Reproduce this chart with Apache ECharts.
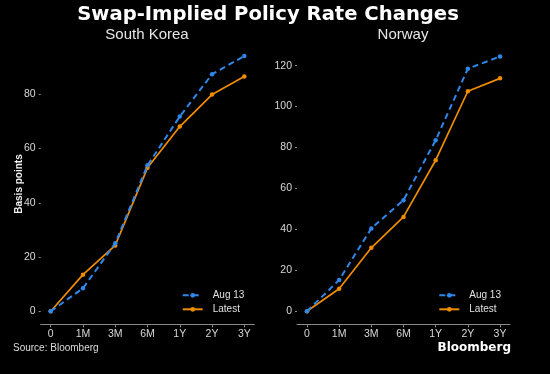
<!DOCTYPE html>
<html>
<head>
<meta charset="utf-8">
<script src="https://cdn.jsdelivr.net/npm/echarts@6/dist/echarts.min.js"></script>
<style>
html,body{margin:0;padding:0;background:#000;}
#chart{width:550px;height:374px;}
</style>
</head>
<body>
<div id="chart"></div>
<script>
var categories = ['0', '1M', '3M', '6M', '1Y', '2Y', '3Y'];
var koreaAug13 = [0, 8.5, 25.1, 53.8, 71.8, 87.4, 94.1];
var koreaLatest = [0, 13.5, 24.3, 52.9, 68.1, 79.9, 86.6];
var norwayAug13 = [0, 15.3, 40.5, 54.3, 83.6, 118.5, 124.5];
var norwayLatest = [0, 11, 31, 46.1, 73.8, 107.5, 113.8];
var koreaTicks = [0, 20, 40, 60, 80];
var norwayTicks = [0, 20, 40, 60, 80, 100, 120];

function pts(arr) { return arr.map(function (v, i) { return [i, v]; }); }
var catIdx = categories.map(function (c, i) { return i; });

var FONT = 'Liberation Sans, Arial, sans-serif';
var BLUE = '#2f87ea';
var ORANGE = '#f08c00';

function xAxis(gi) {
  return {
    type: 'value', gridIndex: gi, min: -0.31, max: 6.31,
    splitLine: { show: false },
    axisLine: { show: true, onZero: false, lineStyle: { color: '#8a8a8a', width: 1 } },
    axisTick: { show: true, length: 3, lineStyle: { color: '#8a8a8a' }, customValues: catIdx },
    axisLabel: { color: '#d8d8d8', fontSize: 10.5, fontFamily: FONT, margin: 4, customValues: catIdx,
      formatter: function (v) { return categories[Math.round(v)]; } }
  };
}
function yAxis(gi, min, max, ticks) {
  return {
    type: 'value', gridIndex: gi, min: min, max: max,
    splitLine: { show: false },
    axisLine: { show: false, onZero: false },
    axisTick: { show: true, length: 2, lineStyle: { color: '#8a8a8a' }, customValues: ticks },
    axisLabel: { color: '#d8d8d8', fontSize: 10.5, fontFamily: FONT, margin: 5, customValues: ticks }
  };
}
function lineSeries(name, gi, data, color, dashed) {
  return {
    name: name, type: 'line', xAxisIndex: gi, yAxisIndex: gi,
    data: pts(data), symbol: 'circle', symbolSize: 4.5, showSymbol: true,
    lineStyle: { color: color, width: dashed ? 2 : 1.7, type: dashed ? [6, 4] : 'solid' },
    itemStyle: { color: color },
    emphasis: { disabled: true }, animation: false, z: dashed ? 3 : 2
  };
}
function legend(left) {
  return {
    orient: 'vertical', left: left, top: 289.3, padding: 0,
    itemWidth: 20, itemHeight: 6, itemGap: 2,
    data: ['Aug 13', 'Latest'],
    textStyle: { color: '#e0e0e0', fontSize: 10, lineHeight: 12, fontFamily: FONT, padding: [0, 0, 0, 5] },
    selectedMode: false
  };
}

var chart = echarts.init(document.getElementById('chart'), null, { renderer: 'canvas' });
chart.setOption({
  backgroundColor: '#000',
  animation: false,
  grid: [
    { left: 40.7, top: 50, width: 213.6, height: 274.3 },
    { left: 297, top: 50, width: 213, height: 274.3 }
  ],
  xAxis: [xAxis(0), xAxis(1)],
  yAxis: [
    yAxis(0, -(324.3 - 311.3) / 2.7125, (311.3 - 50) / 2.7125, koreaTicks),
    yAxis(1, -(324.3 - 311.3) / 2.047, (311.3 - 50) / 2.047, norwayTicks)
  ],
  legend: [legend(181.7), legend(438.3)],
  series: [
    lineSeries('Aug 13', 0, koreaAug13, BLUE, true),
    lineSeries('Latest', 0, koreaLatest, ORANGE, false),
    lineSeries('Aug 13', 1, norwayAug13, BLUE, true),
    lineSeries('Latest', 1, norwayLatest, ORANGE, false)
  ],
  graphic: [
    { type: 'text', style: { x: 268, y: 14.5, text: 'Swap-Implied Policy Rate Changes', textAlign: 'center', textVerticalAlign: 'middle', fill: '#fff', font: 'bold 19.6px DejaVu Sans, sans-serif' } },
    { type: 'text', style: { x: 147, y: 35, text: 'South Korea', textAlign: 'center', textVerticalAlign: 'middle', fill: '#e6e6e6', font: '15px ' + FONT } },
    { type: 'text', style: { x: 403, y: 35, text: 'Norway', textAlign: 'center', textVerticalAlign: 'middle', fill: '#e6e6e6', font: '15px ' + FONT } },
    { type: 'text', x: 19, y: 184, rotation: Math.PI / 2, style: { x: 0, y: 0, text: 'Basis points', textAlign: 'center', textVerticalAlign: 'middle', fill: '#f0f0f0', font: 'bold 10px ' + FONT } },
    { type: 'text', style: { x: 13, y: 348.5, text: 'Source: Bloomberg', textAlign: 'left', textVerticalAlign: 'middle', fill: '#dcdcdc', font: '10px ' + FONT } },
    { type: 'text', style: { x: 511, y: 348, text: 'Bloomberg', textAlign: 'right', textVerticalAlign: 'middle', fill: '#fff', font: 'bold 12px DejaVu Sans, sans-serif' } }
  ]
});
</script>
</body>
</html>
